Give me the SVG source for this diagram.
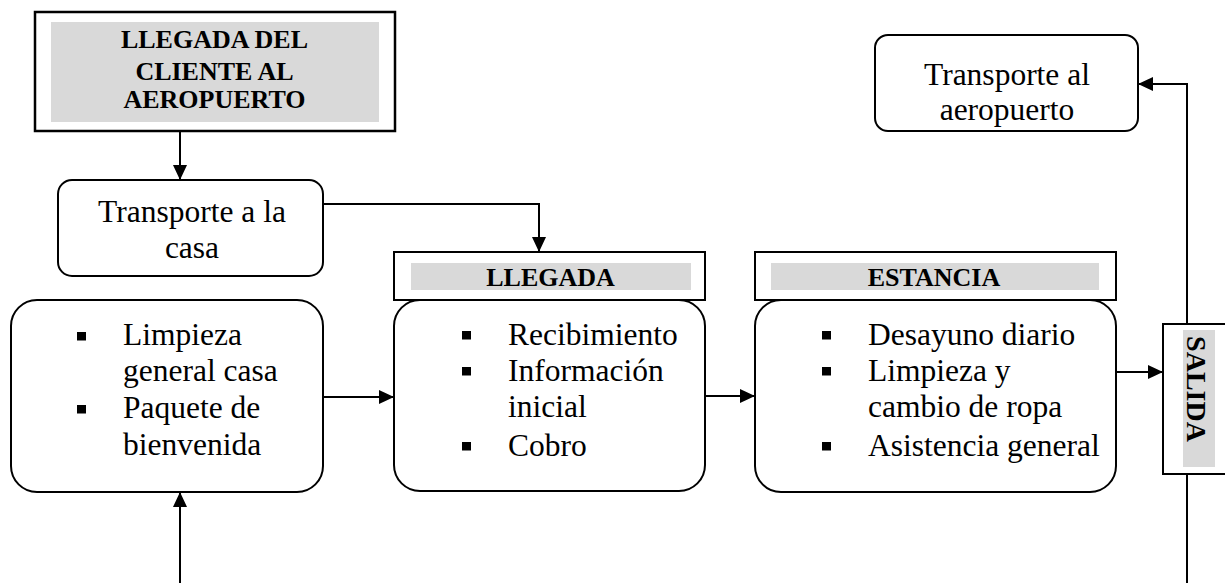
<svg xmlns="http://www.w3.org/2000/svg" width="1225" height="583" viewBox="0 0 1225 583">
<style>
.box{fill:#fff;stroke:#000;stroke-width:2}
.hdr{fill:#fff;stroke:#000;stroke-width:2.5}
.gray{fill:#d9d9d9}
.t{font-family:"Liberation Serif","Times New Roman",serif;font-size:31.5px;fill:#000}
.b{font-family:"Liberation Serif","Times New Roman",serif;font-size:26px;font-weight:bold;fill:#000}
.bul{fill:#000}
.c{fill:none;stroke:#000;stroke-width:2}
</style>
<defs>
<marker id="ah" markerUnits="userSpaceOnUse" markerWidth="16" markerHeight="16" viewBox="0 0 16 16" refX="15" refY="8" orient="auto">
<path d="M0,1 L15,8 L0,15 Z" fill="#000"/>
</marker>
</defs>
<g id="connectors">
<path class="c" d="M180,131 V180" marker-end="url(#ah)"/>
<path class="c" d="M323,204 H539 V252" marker-end="url(#ah)"/>
<path class="c" d="M180,583 V492" marker-end="url(#ah)"/>
<path class="c" d="M323,397 H394" marker-end="url(#ah)"/>
<path class="c" d="M705,396 H755" marker-end="url(#ah)"/>
<path class="c" d="M1116,372 H1163" marker-end="url(#ah)"/>
<path class="c" d="M1187,583 V84 H1138" marker-end="url(#ah)"/>
</g>
<g id="llegada-cliente">
<rect class="hdr" x="35" y="12" width="360" height="119"/>
<rect class="gray" x="51" y="22" width="328" height="100"/>
<text class="b" text-anchor="middle" x="214.5" y="47.5">LLEGADA DEL</text>
<text class="b" text-anchor="middle" x="214.5" y="79.5">CLIENTE AL</text>
<text class="b" text-anchor="middle" x="214.5" y="108">AEROPUERTO</text>
</g>
<g id="transporte-casa">
<rect class="box" x="58" y="180" width="265" height="96" rx="14"/>
<text class="t" text-anchor="middle" x="192" y="222">Transporte a la</text>
<text class="t" text-anchor="middle" x="192" y="258">casa</text>
</g>
<g id="preparacion">
<rect class="box" x="11" y="300" width="312" height="192" rx="26"/>
<rect class="bul" x="77" y="332" width="9" height="8.5"/>
<rect class="bul" x="77" y="405" width="9" height="8.5"/>
<text class="t" x="123" y="345">Limpieza</text>
<text class="t" x="123" y="381">general casa</text>
<text class="t" x="123" y="418">Paquete de</text>
<text class="t" x="123" y="455">bienvenida</text>
</g>
<g id="llegada-header">
<rect class="box" x="394" y="252" width="311" height="48"/>
<rect class="gray" x="411" y="263" width="280" height="27"/>
<text class="b" text-anchor="middle" x="550.5" y="286">LLEGADA</text>
</g>
<g id="llegada">
<rect class="box" x="394" y="300" width="311" height="191" rx="26"/>
<rect class="bul" x="462" y="331" width="9" height="8.5"/>
<rect class="bul" x="462" y="367" width="9" height="8.5"/>
<rect class="bul" x="462" y="442" width="9" height="8.5"/>
<text class="t" x="508" y="345">Recibimiento</text>
<text class="t" x="508" y="381">Información</text>
<text class="t" x="508" y="417">inicial</text>
<text class="t" x="508" y="456">Cobro</text>
</g>
<g id="estancia-header">
<rect class="box" x="755" y="252" width="361" height="48"/>
<rect class="gray" x="771" y="263" width="328" height="27"/>
<text class="b" text-anchor="middle" x="934" y="286">ESTANCIA</text>
</g>
<g id="estancia">
<rect class="box" x="755" y="300" width="361" height="192" rx="26"/>
<rect class="bul" x="822" y="331" width="9" height="8.5"/>
<rect class="bul" x="822" y="367" width="9" height="8.5"/>
<rect class="bul" x="822" y="442" width="9" height="8.5"/>
<text class="t" x="868" y="345">Desayuno diario</text>
<text class="t" x="868" y="381">Limpieza y</text>
<text class="t" x="868" y="417">cambio de ropa</text>
<text class="t" x="868" y="456">Asistencia general</text>
</g>
<g id="salida">
<rect class="box" x="1163" y="324" width="80" height="150"/>
<rect class="gray" x="1183" y="330" width="32" height="137"/>
<text class="b" text-anchor="middle" transform="translate(1187,389) rotate(90)" x="0" y="0" style="font-size:28px">SALIDA</text>
</g>
<g id="transporte-aeropuerto">
<rect class="box" x="875" y="35" width="263" height="96" rx="13"/>
<text class="t" text-anchor="middle" x="1007" y="85">Transporte al</text>
<text class="t" text-anchor="middle" x="1007" y="120">aeropuerto</text>
</g>
</svg>
